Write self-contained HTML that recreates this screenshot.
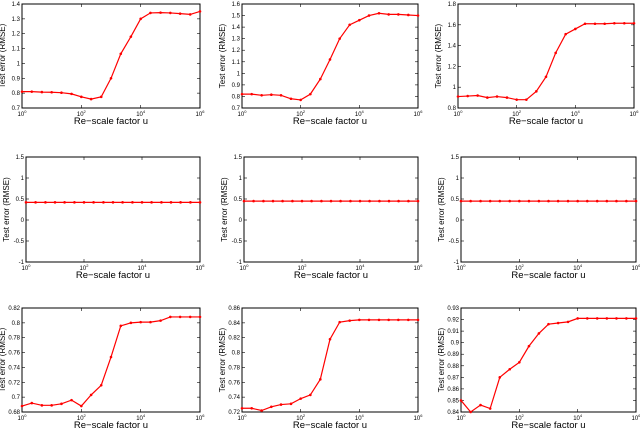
<!DOCTYPE html>
<html><head><meta charset="utf-8"><style>
body{margin:0;background:#fff;width:640px;height:429px;overflow:hidden}
svg{display:block;font-family:"Liberation Sans",sans-serif}
</style></head><body>
<svg id="c" width="640" height="429"></svg>
<script>
const xExp=[0,0.33,0.67,1,1.33,1.67,2,2.33,2.67,3,3.33,3.67,4,4.33,4.67,5,5.33,5.67,6];
const xTickLabels=["0","2","4","6"];
const s1=[0.81,0.81,0.807,0.806,0.803,0.795,0.775,0.76,0.775,0.9,1.065,1.18,1.3,1.34,1.342,1.34,1.335,1.33,1.35];
const s2=[0.82,0.82,0.81,0.815,0.81,0.78,0.77,0.82,0.95,1.12,1.3,1.42,1.46,1.5,1.52,1.51,1.51,1.505,1.5];
const s3=[0.91,0.915,0.92,0.9,0.91,0.9,0.88,0.88,0.96,1.1,1.33,1.51,1.56,1.61,1.61,1.61,1.615,1.615,1.615];
const s4=[0.42,0.42,0.42,0.42,0.42,0.42,0.42,0.42,0.42,0.42,0.42,0.42,0.42,0.42,0.42,0.42,0.42,0.42,0.42];
const s5=[0.45,0.45,0.45,0.45,0.45,0.45,0.45,0.45,0.45,0.45,0.45,0.45,0.45,0.45,0.45,0.45,0.45,0.45,0.45];
const s6=[0.45,0.45,0.45,0.45,0.45,0.45,0.45,0.45,0.45,0.45,0.45,0.45,0.45,0.45,0.45,0.45,0.45,0.45,0.45];
const s7=[0.688,0.692,0.689,0.689,0.691,0.696,0.688,0.703,0.716,0.754,0.796,0.8,0.801,0.801,0.803,0.808,0.808,0.808,0.808];
const s8=[0.725,0.725,0.722,0.727,0.73,0.731,0.738,0.743,0.764,0.818,0.841,0.843,0.844,0.844,0.844,0.844,0.844,0.844,0.844];
const s9=[0.85,0.84,0.846,0.843,0.87,0.877,0.883,0.897,0.908,0.916,0.917,0.918,0.921,0.921,0.921,0.921,0.921,0.921,0.921];
const yTicks1=[0.7,0.8,0.9,1,1.1,1.2,1.3,1.4];
const yTicks2=[0.7,0.8,0.9,1,1.1,1.2,1.3,1.4,1.5,1.6];
const yTicks3=[0.8,1,1.2,1.4,1.6,1.8];
const yTicksM=[-1,-0.5,0,0.5,1,1.5];
const yTicks7=[0.68,0.7,0.72,0.74,0.76,0.78,0.8,0.82];
const yTicks8=[0.72,0.74,0.76,0.78,0.8,0.82,0.84,0.86];
const yTicks9=[0.84,0.85,0.86,0.87,0.88,0.89,0.9,0.91,0.92,0.93];
const panels=[
 {s:s1,t:yTicks1,x0:22,x1:200,y0:4,y1:108},
 {s:s2,t:yTicks2,x0:242,x1:418,y0:4,y1:108},
 {s:s3,t:yTicks3,x0:458,x1:634,y0:4,y1:108},
 {s:s4,t:yTicksM,x0:26,x1:200,y0:157,y1:262},
 {s:s5,t:yTicksM,x0:244,x1:418,y0:157,y1:262},
 {s:s6,t:yTicksM,x0:461,x1:636,y0:157,y1:262},
 {s:s7,t:yTicks7,x0:22,x1:200,y0:308,y1:412},
 {s:s8,t:yTicks8,x0:242,x1:418,y0:308,y1:412},
 {s:s9,t:yTicks9,x0:461,x1:636,y0:308,y1:412}];
const NS="http://www.w3.org/2000/svg",svg=document.getElementById('c');
function mk(tag,at,par){const e=document.createElementNS(NS,tag);for(const k in at)e.setAttribute(k,at[k]);(par||svg).appendChild(e);return e;}
panels.forEach((p,i)=>{
 const g=mk('g',{});
 
 
 const ymin=p.t[0],ymax=p.t[p.t.length-1];
 const X=v=>p.x0+(v/6)*(p.x1-p.x0);
 const Y=v=>p.y1-(v-ymin)/(ymax-ymin)*(p.y1-p.y0);
 const r=mk('rect',{x:p.x0,y:p.y0,width:p.x1-p.x0,height:p.y1-p.y0,fill:'none',stroke:'#000','stroke-width':1},g);
 
 
 p.t.forEach(v=>{
  mk('line',{x1:p.x0,x2:p.x0+3,y1:Y(v),y2:Y(v),stroke:'#000','stroke-width':0.6},g);
  mk('line',{x1:p.x1,x2:p.x1-3,y1:Y(v),y2:Y(v),stroke:'#000','stroke-width':0.6},g);
  const t=mk('text',{x:p.x0-2,y:Y(v)+2,'font-size':6,'text-anchor':'end'},g);t.textContent=String(v);
  
  
 });
 xTickLabels.forEach((l,k)=>{
  const xv=X(k*2);
  mk('line',{x1:xv,x2:xv,y1:p.y1,y2:p.y1-3,stroke:'#000','stroke-width':0.6},g);
  mk('line',{x1:xv,x2:xv,y1:p.y0,y2:p.y0+3,stroke:'#000','stroke-width':0.6},g);
  const t=mk('text',{x:xv,y:p.y1+8,'font-size':6,'text-anchor':'middle'},g);
  t.innerHTML='10<tspan dy="-3" font-size="4">'+l+'</tspan>';
  
  
 });
 const xt=mk('text',{x:(p.x0+p.x1)/2,y:p.y1+16,'font-size':9.5,'text-anchor':'middle'},g);
 xt.textContent='Re\u2212scale factor u';
 
 
 const cy=(p.y0+p.y1)/2,cx=p.x0-17;
 const yt=mk('text',{x:cx,y:cy,'font-size':8,'text-anchor':'middle',transform:`rotate(-90 ${cx} ${cy})`},g);
 yt.textContent='Test error (RMSE)';
 
 
 const pts=p.s.map((v,k)=>X(xExp[k])+','+Y(v)).join(' ');
 const pl=mk('polyline',{points:pts,fill:'none',stroke:'#f00','stroke-width':1.2},g);
 
 
 p.s.forEach((v,k)=>{
  const c=mk('circle',{cx:X(xExp[k]),cy:Y(v),r:1.3,fill:'#f00'},g);
  
  
 });
});
</script>
</body></html>
